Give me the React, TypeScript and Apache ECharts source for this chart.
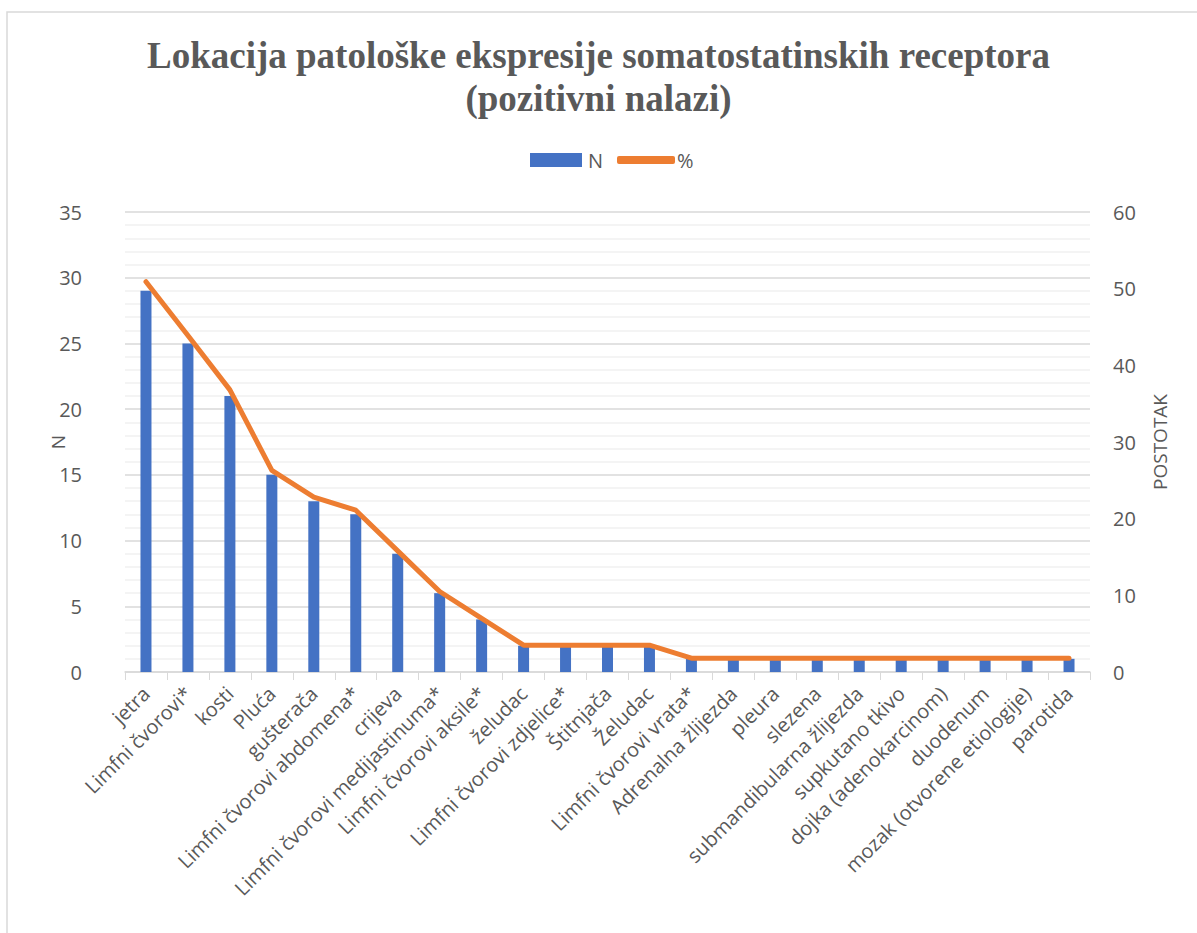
import React, { useEffect, useRef } from "react";
import * as echarts from "echarts";

const categories = [
  "jetra",
  "Limfni čvorovi*",
  "kosti",
  "Pluća",
  "gušterača",
  "Limfni čvorovi abdomena*",
  "crijeva",
  "Limfni čvorovi medijastinuma*",
  "Limfni čvorovi aksile*",
  "želudac",
  "Limfni čvorovi zdjelice*",
  "Štitnjača",
  "Želudac",
  "Limfni čvorovi vrata*",
  "Adrenalna žlijezda",
  "pleura",
  "slezena",
  "submandibularna žlijezda",
  "supkutano tkivo",
  "dojka (adenokarcinom)",
  "duodenum",
  "mozak (otvorene etiologije)",
  "parotida",
];

const nValues = [29, 25, 21, 15, 13, 12, 9, 6, 4, 2, 2, 2, 2, 1, 1, 1, 1, 1, 1, 1, 1, 1, 1];
const pctValues = [
  50.9, 43.9, 36.8, 26.3, 22.8, 21.1, 15.8, 10.5, 7.0, 3.5, 3.5, 3.5, 3.5, 1.8, 1.8, 1.8,
  1.8, 1.8, 1.8, 1.8, 1.8, 1.8, 1.8,
];

const titleText = "Lokacija patološke ekspresije somatostatinskih receptora\n(pozitivni nalazi)";

export default function App() {
  const ref = useRef<HTMLDivElement>(null);
  useEffect(() => {
    if (!ref.current) return;
    const chart = echarts.init(ref.current, undefined, { renderer: "svg" });
    const labelFont = "'Open Sans', 'Noto Sans', sans-serif";
    const grey = "#595959";
    const legendText = {
      fontFamily: labelFont,
      fontSize: 20,
      lineHeight: 24,
      color: grey,
    };
    chart.setOption({
      animation: false,
      backgroundColor: "#ffffff",
      title: {
        text: titleText,
        left: "center",
        top: 29,
        textStyle: {
          fontFamily: "'Liberation Serif', 'DejaVu Serif', serif",
          fontWeight: "bold",
          fontSize: 37,
          lineHeight: 43,
          color: grey,
        },
      },
      legend: [
        {
          left: 530,
          top: 148,
          padding: 0,
          itemWidth: 52,
          itemHeight: 14,
          itemGap: 0,
          textStyle: { ...legendText, padding: [0, 0, 0, 1] },
          data: [{ name: "N", icon: "rect" }],
        },
        {
          left: 617,
          top: 148,
          padding: 0,
          itemWidth: 58,
          itemHeight: 8,
          itemGap: 0,
          textStyle: { ...legendText, padding: [0, 0, 0, -3] },
          data: [{ name: "%", icon: "roundRect", itemStyle: { color: "#ED7D31" } }],
        },
      ],
      graphic: [
        {
          type: "rect",
          shape: { x: 7, y: 12, width: 1300, height: 1000 },
          style: { fill: "none", stroke: "#d9d9d9", lineWidth: 1.5 },
          silent: true,
        },
      ],
      grid: { left: 125, right: 107, top: 212, bottom: 261 },
      xAxis: {
        type: "category",
        data: categories,
        axisLine: { lineStyle: { color: "#d9d9d9", width: 1.5 } },
        axisTick: { show: true, length: 8, lineStyle: { color: "#d9d9d9" } },
        axisLabel: {
          interval: 0,
          rotate: 45,
          fontFamily: labelFont,
          fontSize: 20,
          color: grey,
          margin: 18,
        },
      },
      yAxis: [
        {
          type: "value",
          name: "N",
          nameLocation: "middle",
          nameGap: 58,
          nameMoveOverlap: false,
          nameTextStyle: { fontFamily: labelFont, fontSize: 19, color: grey },
          min: 0,
          max: 35,
          interval: 5,
          axisLine: { show: false },
          axisTick: { show: false },
          axisLabel: { fontFamily: labelFont, fontSize: 20, color: grey, margin: 43 },
          splitLine: { lineStyle: { color: "#d9d9d9", width: 1.5 } },
          minorTick: { show: false, splitNumber: 5 },
          minorSplitLine: { show: true, lineStyle: { color: "#f0f0f0", width: 1.5 } },
        },
        {
          type: "value",
          name: "POSTOTAK",
          nameLocation: "middle",
          nameGap: 60,
          nameRotate: 90,
          nameMoveOverlap: false,
          nameTextStyle: { fontFamily: labelFont, fontSize: 19, color: grey },
          min: 0,
          max: 60,
          interval: 10,
          axisLine: { show: false },
          axisTick: { show: false },
          axisLabel: { fontFamily: labelFont, fontSize: 20, color: grey, margin: 23 },
          splitLine: { show: false },
        },
      ],
      series: [
        {
          name: "N",
          type: "bar",
          data: nValues,
          yAxisIndex: 0,
          barWidth: 11,
          itemStyle: { color: "#4472C4" },
        },
        {
          name: "%",
          type: "line",
          data: pctValues,
          yAxisIndex: 1,
          showSymbol: false,
          symbol: "none",
          itemStyle: { color: "#ED7D31" },
          lineStyle: { color: "#ED7D31", width: 5, cap: "round", join: "round" },
        },
      ],
    });
    return () => chart.dispose();
  }, []);
  return (
    <div
      ref={ref}
      style={{ position: "absolute", left: 0, top: 0, width: 1197, height: 933 }}
    />
  );
}
